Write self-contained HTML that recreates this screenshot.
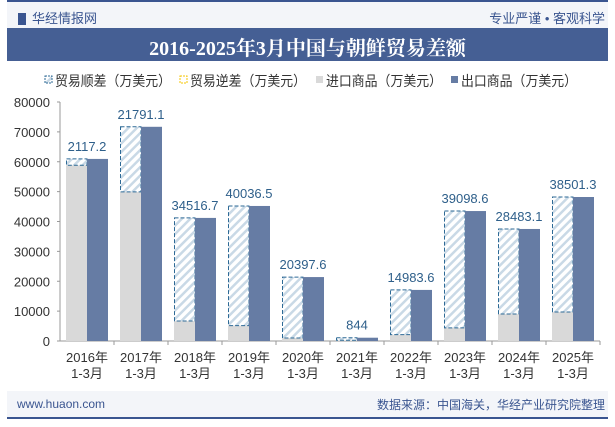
<!DOCTYPE html>
<html><head><meta charset="utf-8"><style>
body{margin:0;width:615px;height:427px;background:#fff;position:relative;overflow:hidden;font-family:"Liberation Sans","Noto Sans CJK SC",sans-serif}
.a{position:absolute}
</style></head><body>
<div class="a" style="left:7px;top:0;width:601px;height:2px;background:#3a5590"></div>
<div class="a" style="left:7px;top:2px;width:601px;height:26px;background:#f3f5f9"></div>
<div class="a" style="left:18px;top:8px;font-size:13px;color:#3a5590;"><span style="display:inline-block;width:8px;height:12px;background:#3a5590;vertical-align:-2px;margin-right:6px"></span>华经情报网</div>
<div class="a" style="right:10px;top:8px;font-size:13px;color:#3a5590">专业严谨 • 客观科学</div>
<div class="a" style="left:7px;top:28px;width:601px;height:33px;background:#455f94"></div>
<div class="a" style="left:7px;top:32px;width:601px;text-align:center;color:#fff;font-size:20px;font-weight:bold;font-family:'Liberation Serif','Noto Serif CJK SC',serif">2016-2025年3月中国与朝鲜贸易差额</div>
<div class="a" style="left:7px;top:391px;width:601px;height:26px;background:#f3f5f9"></div>
<div class="a" style="left:7px;top:417px;width:601px;height:2px;background:#3a5590"></div>
<div class="a" style="left:17px;top:397px;font-size:12px;color:#3a5590">www.huaon.com</div>
<div class="a" style="right:10px;top:396px;font-size:12px;color:#3a5590">数据来源：中国海关，华经产业研究院整理</div>
<svg class="a" style="left:0;top:0" width="615" height="427" id="chart">
<defs><pattern id="hatch" width="6" height="6" patternUnits="userSpaceOnUse" patternTransform="rotate(45)"><rect width="6" height="6" fill="#fff"/><rect width="2.5" height="6" fill="#c9d9e6"/></pattern></defs>
</svg>
<script>
const categories=["2016年|1-3月","2017年|1-3月","2018年|1-3月","2019年|1-3月","2020年|1-3月","2021年|1-3月","2022年|1-3月","2023年|1-3月","2024年|1-3月","2025年|1-3月"];
const exportsV=[60950,71700,41200,45200,21400,1100,17100,43500,37500,48200];
const balance=[2117.2,21791.1,34516.7,40036.5,20397.6,844,14983.6,39098.6,28483.1,38501.3];
const balanceLabels=["2117.2","21791.1","34516.7","40036.5","20397.6","844","14983.6","39098.6","28483.1","38501.3"];
const yTicks=[0,10000,20000,30000,40000,50000,60000,70000,80000];
const NS="http://www.w3.org/2000/svg",svg=document.getElementById('chart');
const x0=60,x1=600,y0=341,yTop=102,yMax=80000;
const y=v=>y0-(v/yMax)*(y0-yTop);
const bw=(x1-x0)/categories.length;
const cx=i=>x0+bw*(i+0.5);
function mk(t,a,txt){const e=document.createElementNS(NS,t);for(const k in a)e.setAttribute(k,a[k]);if(txt!=null)e.textContent=txt;svg.appendChild(e);return e;}
let e;
e=mk('line',{x1:x0,y1:y0,x2:x0,y2:yTop,stroke:'#999'});

yTicks.forEach(t=>{
 e=mk('text',{x:50,y:y(t)+5,'text-anchor':'end','font-size':13,fill:'#333'},String(t));
 
 mk('line',{x1:x0-3,y1:y(t),x2:x0,y2:y(t),stroke:'#999'});
});
e=mk('line',{x1:x0,y1:y0,x2:x1,y2:y0,stroke:'#999'});

categories.forEach((c,i)=>{
 const c0=cx(i),ex=exportsV[i],im=ex-balance[i];
 mk('line',{x1:x0+bw*(i+1),y1:y0,x2:x0+bw*(i+1),y2:y0+4,stroke:'#999'});
 e=mk('rect',{x:c0-21,y:y(im),width:21,height:y0-y(im),fill:'#d9d9d9'});
 
 e=mk('rect',{x:c0-20.5,y:y(ex),width:20.5,height:y(im)-y(ex),fill:'url(#hatch)',stroke:'#2e6a96','stroke-dasharray':'4,2'});
 
 e=mk('rect',{x:c0,y:y(ex),width:21,height:y0-y(ex),fill:'#667ca4'});
 
 e=mk('text',{x:c0,y:y(ex)-8,'text-anchor':'middle','font-size':13,fill:'#2e5f8a'},balanceLabels[i]);
 
 const p=c.split('|');
 e=mk('text',{x:c0,y:362,'text-anchor':'middle','font-size':13,fill:'#333'},p[0]);
 
 e=mk('text',{x:c0,y:378,'text-anchor':'middle','font-size':13,fill:'#333'},p[1]);
 
});
const legend=[["贸易顺差（万美元）","hatch"],["贸易逆差（万美元）","#f5c400"],["进口商品（万美元）","#d9d9d9"],["出口商品（万美元）","#667ca4"]];
const lx=[45,180,316,451];
legend.forEach((l,i)=>{
 if(l[1]=="hatch")e=mk('rect',{x:lx[i],y:76,width:7,height:7,fill:'url(#hatch)',stroke:'#2e6a96','stroke-dasharray':'2,1'});
 else if(i==1)e=mk('rect',{x:lx[i],y:76,width:7,height:7,fill:'#fff',stroke:l[1],'stroke-dasharray':'2,1'});
 else e=mk('rect',{x:lx[i],y:76,width:7,height:7,fill:l[1]});
 
 e=mk('text',{x:lx[i]+10,y:86,'font-size':14,fill:'#333',textLength:116,lengthAdjust:'spacingAndGlyphs'},l[0]);
 
});
</script>
</body></html>
